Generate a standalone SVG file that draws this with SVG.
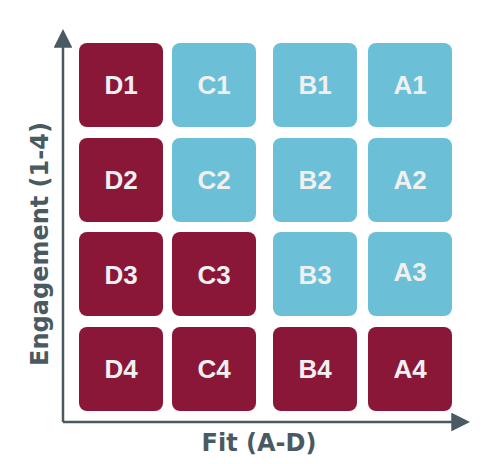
<svg xmlns="http://www.w3.org/2000/svg" width="502" height="464" viewBox="0 0 502 464">
<defs>
<style>
.m{fill:#8a1638}
.b{fill:#6bbfd7}
.t{font-family:"Liberation Sans",Arial,sans-serif;font-weight:bold;font-size:26px;fill:#f0f0f0;text-anchor:middle}
.ax{stroke:#4a5a62;stroke-width:2.5;fill:none}
.lab{font-family:"DejaVu Sans",sans-serif;font-weight:bold;font-size:24px;fill:#4a5a62;text-anchor:middle}
</style>
<marker id="ah" viewBox="0 0 10 10" refX="2" refY="5" markerWidth="7.5" markerHeight="7.5" markerUnits="strokeWidth" orient="auto">
<path d="M0,0 L10,5 L0,10 z" fill="#4a5a62"/>
</marker>
</defs>
<rect width="502" height="464" fill="#ffffff"/>
<g id="connectors">
<path class="ax" d="M63,422 L63,44" marker-end="url(#ah)"/>
<path class="ax" d="M63,422 L455,422" marker-end="url(#ah)"/>
</g>
<g id="D1"><rect class="m" x="79" y="43" width="84" height="84" rx="8"/><text class="t" x="121" y="94">D1</text></g>
<g id="C1"><rect class="b" x="172" y="43" width="84" height="84" rx="8"/><text class="t" x="214" y="94">C1</text></g>
<g id="B1"><rect class="b" x="273" y="43" width="84" height="84" rx="8"/><text class="t" x="315" y="94">B1</text></g>
<g id="A1"><rect class="b" x="368" y="43" width="84" height="84" rx="8"/><text class="t" x="410" y="94">A1</text></g>
<g id="D2"><rect class="m" x="79" y="138" width="84" height="84" rx="8"/><text class="t" x="121" y="189">D2</text></g>
<g id="C2"><rect class="b" x="172" y="138" width="84" height="84" rx="8"/><text class="t" x="214" y="189">C2</text></g>
<g id="B2"><rect class="b" x="273" y="138" width="84" height="84" rx="8"/><text class="t" x="315" y="189">B2</text></g>
<g id="A2"><rect class="b" x="368" y="138" width="84" height="84" rx="8"/><text class="t" x="410" y="189">A2</text></g>
<g id="D3"><rect class="m" x="79" y="232" width="84" height="84" rx="8"/><text class="t" x="121" y="284">D3</text></g>
<g id="C3"><rect class="m" x="172" y="232" width="84" height="84" rx="8"/><text class="t" x="214" y="284">C3</text></g>
<g id="B3"><rect class="b" x="273" y="232" width="84" height="84" rx="8"/><text class="t" x="315" y="284">B3</text></g>
<g id="A3"><rect class="b" x="368" y="232" width="84" height="84" rx="8"/><text class="t" x="410" y="281">A3</text></g>
<g id="D4"><rect class="m" x="79" y="327" width="84" height="84" rx="8"/><text class="t" x="121" y="378">D4</text></g>
<g id="C4"><rect class="m" x="172" y="327" width="84" height="84" rx="8"/><text class="t" x="214" y="378">C4</text></g>
<g id="B4"><rect class="m" x="273" y="327" width="84" height="84" rx="8"/><text class="t" x="315" y="378">B4</text></g>
<g id="A4"><rect class="m" x="368" y="327" width="84" height="84" rx="8"/><text class="t" x="410" y="378">A4</text></g>
<text class="lab" x="259" y="451">Fit (A-D)</text>
<text class="lab" transform="translate(48,244) rotate(-90)">Engagement (1-4)</text>
</svg>
